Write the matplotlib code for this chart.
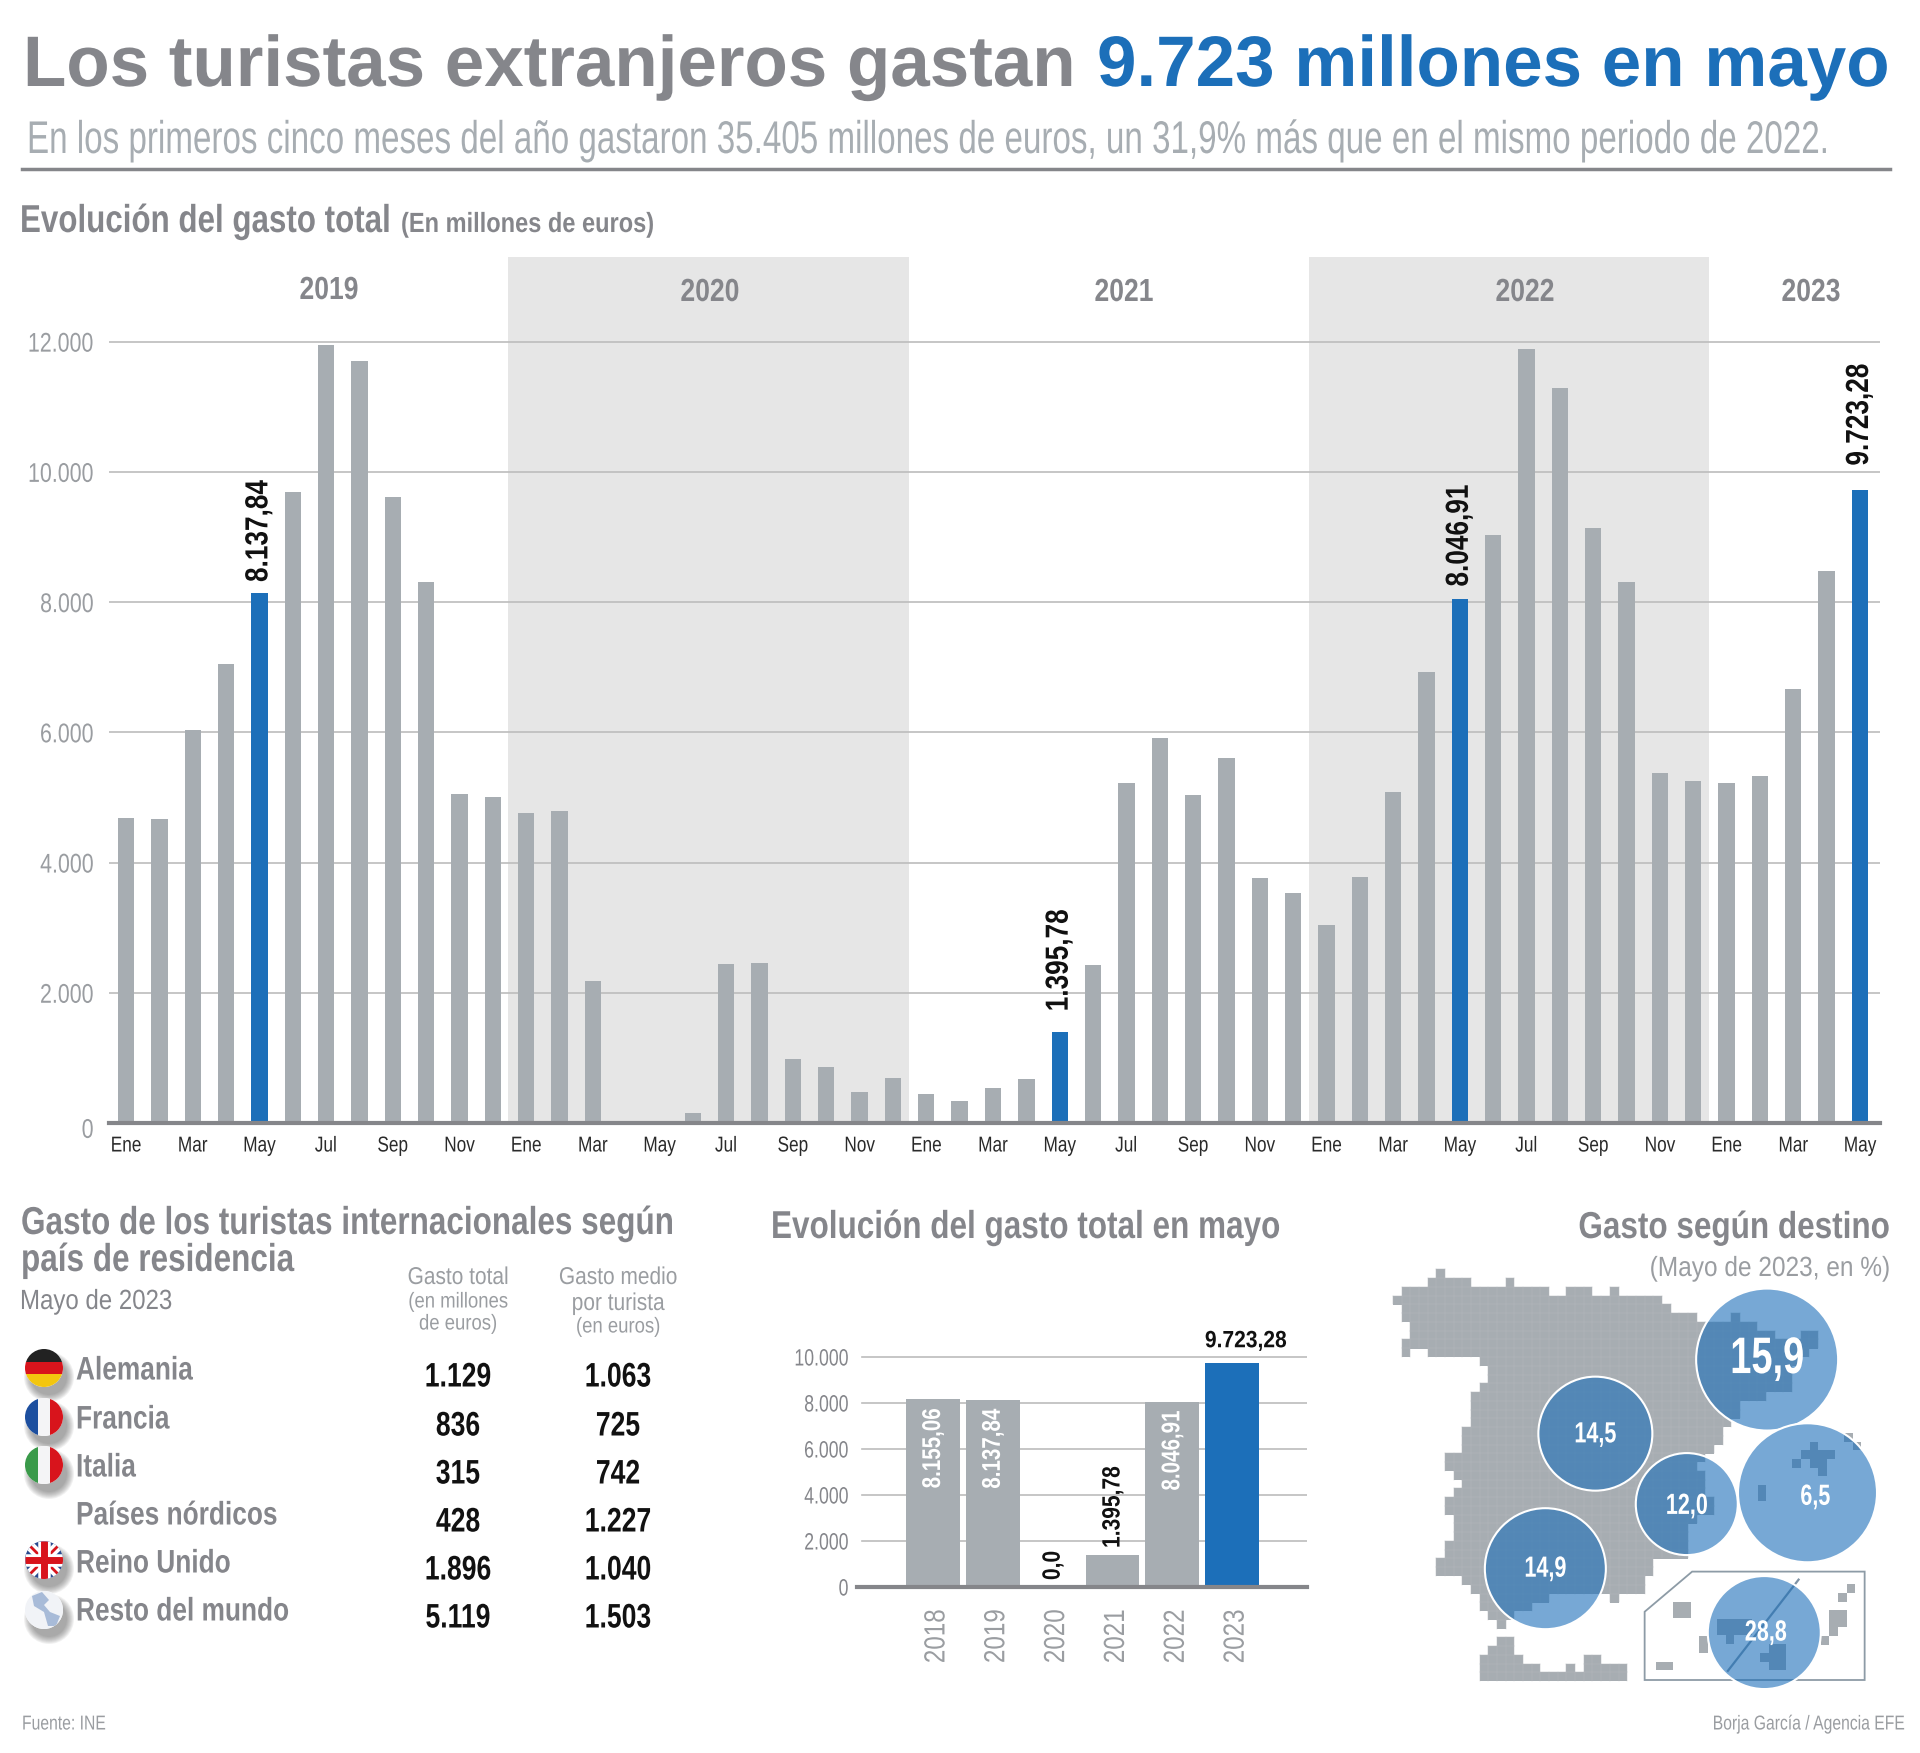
import matplotlib
matplotlib.use('Agg')
import matplotlib.pyplot as plt
from matplotlib.patches import Circle, Rectangle, Polygon
from matplotlib.patheffects import AbstractPathEffect
from matplotlib.text import Text
from matplotlib.transforms import Affine2D, Bbox, ScaledTranslation

W, H = 1920, 1753
SANS = ['Liberation Sans']

GREY = '#a7adb2'; BLUE = '#1c6fb9'; HEAD = '#85868b'; SOFT = '#9a9da1'; BAND = '#e6e6e6'; GRID = '#bcbcbc'

# ---------- data ----------
MONTHS = ['Ene', 'Mar', 'May', 'Jul', 'Sep', 'Nov']
V2019 = [4684, 4665, 6038, 7054, 8137.84, 9687, 11945, 11700, 9612, 8314, 5060, 5004]
V2020 = [4759, 4797, 2182, 0, 0, 150, 2445, 2464, 978, 865, 470, 696]
V2021 = [451, 339, 545, 677, 1395.78, 2426, 5229, 5906, 5041, 5605, 3762, 3536]
V2022 = [3047, 3781, 5079, 6922, 8046.91, 9029, 11888, 11286, 9142, 8314, 5380, 5248]
V2023 = [5229, 5323, 6659, 8483, 9723.28]
YEARS_MAIN = ['2019', '2020', '2021', '2022', '2023']
Y_TICKS = [0, 2000, 4000, 6000, 8000, 10000, 12000]
MAY_YEARS = ['2018', '2019', '2020', '2021', '2022', '2023']
MAY_VALUES = [8155.06, 8137.84, 0.0, 1395.78, 8046.91, 9723.28]
COUNTRIES = ['Alemania', 'Francia', 'Italia', 'Países nórdicos', 'Reino Unido', 'Resto del mundo']
GASTO_TOTAL = ['1.129', '836', '315', '428', '1.896', '5.119']
GASTO_MEDIO = ['1.063', '725', '742', '1.227', '1.040', '1.503']
DESTINOS = ['15,9', '14,5', '12,0', '6,5', '14,9', '28,8']


def es(v, dec=2):
    s = f'{v:,.{dec}f}'
    return s.replace(',', '#').replace('.', ',').replace('#', '.')


def pos(x0, y0, x1, y1):
    return [x0 / W, 1 - y1 / H, (x1 - x0) / W, (y1 - y0) / H]


class Squeeze(AbstractPathEffect):
    """Draws a text narrower along its own direction; anchor 0/0.5/1 = start/middle/end stays put."""
    def __init__(self, f, anchor):
        super().__init__()
        self.f, self.anchor = f, anchor

    def draw_path(self, renderer, gc, tpath, affine, rgbFace=None):
        w = tpath.get_extents().x1
        a = Affine2D().scale(self.f, 1).translate(w * (1 - self.f) * self.anchor, 0) + affine
        renderer.draw_path(gc, tpath, a, rgbFace)


class NarrowText(Text):
    """Horizontal one-line text whose layout has the squeezed width."""
    def _get_layout(self, renderer):
        bbox, info, descent = super()._get_layout(renderer)
        f, a = self._f, self._a
        shift = bbox.width * (1 - f) * a
        box = Bbox.from_bounds(bbox.x0 + shift, bbox.y0, bbox.width * f, bbox.height)
        lines = [(l, wh, x + shift, y) for l, wh, x, y in info]
        return box, lines, descent


def squeeze(t, f, anchor=None):
    if anchor is None:
        anchor = {'left': 0, 'center': 0.5, 'right': 1}[t.get_ha()]
    t.set_path_effects([Squeeze(f, anchor)])
    return t


def nudge(t, dx=0, dy=0):
    t.set_transform(t.get_transform() + ScaledTranslation(dx / 72, dy / 72, fig.dpi_scale_trans))


fig = plt.figure(figsize=(W / 100, H / 100), dpi=100, facecolor='white')
rend = fig.canvas.get_renderer()

# ---------- main chart ----------
ax = fig.add_axes(pos(109, 257, 1880, 1123), zorder=1)
vals = V2019 + V2020 + V2021 + V2022 + V2023
xs = list(range(len(vals)))
ax.set_xlim(-0.51, 52.6)
ax.set_ylim(0, 13300)
ax.axvspan(11.45, 23.48, color=BAND, lw=0, zorder=0)
ax.axvspan(35.49, 47.46, color=BAND, lw=0, zorder=0)
for t in Y_TICKS[1:]:
    ax.axhline(t, color=GRID, lw=1.2, zorder=1)
hl = [4, 28, 40, 52]
LABEL_PAD = [8, 15, 9, 17.5]
ax.bar(xs, vals, width=0.49, color=[BLUE if i in hl else GREY for i in xs], zorder=2)
ax.axhline(0, color='#85868a', lw=3, zorder=3, clip_on=False)
for i, p in zip(hl, LABEL_PAD):
    a = ax.annotate(es(vals[i]), (i, vals[i]), xytext=(0, p), textcoords='offset points', rotation=90,
                    ha='center', va='bottom', family=SANS, weight='bold', fontsize=23, color='#111111', zorder=4)
    squeeze(a, 0.82, 0)
for s in ax.spines.values():
    s.set_visible(False)
ax.set_xticks(xs[::2])
ax.set_xticklabels([MONTHS[(i // 2) % 6] for i in xs[::2]], family=SANS, fontsize=15.5, color='#2a2a2a')
ax.set_yticks(Y_TICKS)
ax.set_yticklabels([es(t, 0) for t in Y_TICKS], family=SANS, fontsize=19.5, color=SOFT)
ax.tick_params(length=0)
ax.tick_params(axis='x', pad=9)
ax.tick_params(axis='y', pad=11)
for l in ax.get_xticklabels():
    squeeze(l, 0.8, 0.5)
for l in ax.get_yticklabels():
    squeeze(l, 0.79, 1)
nudge(ax.get_yticklabels()[0], dy=-3.5)
ax.patch.set_alpha(0)

# ---------- May chart ----------
am = fig.add_axes(pos(857, 1340, 1307, 1587), zorder=1)
xm = list(range(len(MAY_VALUES)))
am.set_xlim(-1.27, 6.25)
am.set_ylim(0, 10739)
for t in range(2000, 10001, 2000):
    am.axhline(t, xmin=0.012, color=GRID, lw=1.2, zorder=1)
am.bar(xm, MAY_VALUES, width=0.9, color=[GREY] * 5 + [BLUE], zorder=2)
am.axhline(0, color='#85868a', lw=3, zorder=3, clip_on=False)
for i, v in zip(xm, MAY_VALUES):
    if v > 8000 and i < 5:
        t = am.annotate(es(v), (i, v), xytext=(0, -6), textcoords='offset points', rotation=90, ha='center', va='top',
                        color='white', family=SANS, weight='bold', fontsize=18.5, zorder=4)
        squeeze(t, 0.8, 1)
    elif i < 5:
        t = am.annotate(es(v) if v else '0,0', (i, v), xytext=(0, 5), textcoords='offset points', rotation=90,
                        ha='center', va='bottom', family=SANS, weight='bold', fontsize=18, color='#111111', zorder=4)
        squeeze(t, 0.84, 0)
    else:
        t = am.annotate(es(v), (i, v), xytext=(10, 8), textcoords='offset points', ha='center', va='bottom',
                        family=SANS, weight='bold', fontsize=17, color='#111111', zorder=4, annotation_clip=False)
        squeeze(t, 0.89, 0.5)
for s in am.spines.values():
    s.set_visible(False)
am.set_xticks(xm)
am.set_xticklabels(MAY_YEARS, rotation=90, family=SANS, fontsize=21, color=SOFT)
am.set_yticks(list(range(0, 10001, 2000)))
am.set_yticklabels([es(t, 0) for t in range(0, 10001, 2000)], family=SANS, fontsize=17, color=HEAD)
am.tick_params(length=0)
am.tick_params(axis='x', pad=16)
am.tick_params(axis='y', pad=6)
for l in am.get_xticklabels():
    squeeze(l, 0.83, 1)
    nudge(l, dx=2.5)
for l in am.get_yticklabels():
    squeeze(l, 0.75, 1)
am.patch.set_alpha(0)

# ---------- overlay in pixels ----------
ov = fig.add_axes([0, 0, 1, 1], zorder=2)
ov.set_xlim(0, W); ov.set_ylim(H, 0); ov.axis('off'); ov.patch.set_alpha(0)


def T(x, y, s, size, color=HEAD, ha='left', va='center', weight='normal', f=None, w=None, **kw):
    t = ov.text(x, y, s, fontsize=size, color=color, ha=ha, va=va, family=SANS, weight=weight, **kw)
    if w is not None:
        f = w / t.get_window_extent(rend).width
    if f is None:
        f = 1.0
    squeeze(t, f, 0)
    t.__class__ = NarrowText
    t._f, t._a = f, {'left': 0, 'center': 0.5, 'right': 1}[ha]
    return t


T(23, 86, 'Los turistas extranjeros gastan', 51.5, va='baseline', weight='bold', w=1052)
T(1889, 86, '9.723 millones en mayo', 51.5, color=BLUE, ha='right', va='baseline', weight='bold', w=792)
T(27, 153, 'En los primeros cinco meses del año gastaron 35.405 millones de euros, un 31,9% más que en el mismo periodo de 2022.',
  33, color=GREY, va='baseline', w=1802)
ov.plot([22, 1890], [169, 169], color='#85868a', lw=2.5)
T(20, 232, 'Evolución del gasto total', 28, va='baseline', weight='bold', w=371)
T(401, 232, '(En millones de euros)', 20, va='baseline', weight='bold', w=253)
for x, y, s in zip([329, 710, 1124, 1525, 1811], [291, 293, 293, 293, 293], YEARS_MAIN):
    T(x, y, s, 23, ha='center', weight='bold', f=0.83)

# table
T(21, 1224, 'Gasto de los turistas internacionales según', 28, weight='bold', f=0.81)
T(21, 1261, 'país de residencia', 28, weight='bold', f=0.81)
T(20, 1302, 'Mayo de 2023', 20, color=HEAD, f=0.865)
for x, y, s, z in [(458, 1278, 'Gasto total', 17.5), (458, 1302, '(en millones', 15.5), (458, 1324, 'de euros)', 15.5),
                   (618, 1278, 'Gasto medio', 17.5), (618, 1304, 'por turista', 17.5), (618, 1327, '(en euros)', 15.5)]:
    T(x, y, s, z, ha='center', color=SOFT, f=0.86)
LAB_Y = [1371, 1420, 1468, 1516, 1564, 1612]
VAL_Y = [1378, 1427, 1475, 1523, 1571, 1619]
for s, t, m, y, v in zip(COUNTRIES, GASTO_TOTAL, GASTO_MEDIO, LAB_Y, VAL_Y):
    T(76, y, s, 23.5, weight='bold', f=0.805)
    T(458, v, t, 24.5, color='#111111', ha='center', weight='bold', f=0.78)
    T(618, v, m, 24.5, color='#111111', ha='center', weight='bold', f=0.78)


def flag(cy, bands, vertical=False):
    cx = 44; r = 19
    for k in range(8):
        ov.add_patch(Circle((cx + 5, cy + 9), r + 6 - k, color='#444444', alpha=0.07, lw=0, zorder=2))
    c = Circle((cx, cy), r, fc='white', lw=0, zorder=3)
    ov.add_patch(c)
    n = len(bands)
    for k, col in enumerate(bands):
        if vertical:
            rr = Rectangle((cx - r + 2 * r * k / n, cy - r), 2 * r / n, 2 * r, fc=col, lw=0, zorder=3.1)
        else:
            rr = Rectangle((cx - r, cy - r + 2 * r * k / n), 2 * r, 2 * r / n, fc=col, lw=0, zorder=3.1)
        ov.add_patch(rr)
        rr.set_clip_path(c)
    return c


flag(1368, ['#222222', '#d8141c', '#f3c60f'])
flag(1417, ['#1d4f9f', '#f4f4f6', '#d8141c'], vertical=True)
flag(1465, ['#3a9a4a', '#f4f4f6', '#d8141c'], vertical=True)
c = flag(1560, ['#2a4a8f'])
for (a, b, col, w) in [(-19, -19, 'white', 7), (-19, 19, 'white', 7), (-19, -19, '#d8141c', 2), (-19, 19, '#d8141c', 2)]:
    ln, = ov.plot([44 + a, 44 - a], [1560 + b, 1560 - b], color=col, lw=w, zorder=3.2, solid_capstyle='butt')
    ln.set_clip_path(c)
for xx, yy, col, w in [([44, 44], [1541, 1579], 'white', 9), ([25, 63], [1560, 1560], 'white', 9),
                       ([44, 44], [1541, 1579], '#d8141c', 5), ([25, 63], [1560, 1560], '#d8141c', 5)]:
    ln, = ov.plot(xx, yy, color=col, lw=w, zorder=3.3, solid_capstyle='butt')
    ln.set_clip_path(c)
c = flag(1610, ['#f1f3f7'])
blob = Polygon([(32, 1596), (42, 1592), (49, 1600), (44, 1605), (50, 1612), (60, 1616), (56, 1626), (48, 1626), (44, 1612), (34, 1606)],
               fc='#a8bbd8', lw=0, zorder=3.2)
ov.add_patch(blob); blob.set_clip_path(c)

# section headings
T(771, 1228, 'Evolución del gasto total en mayo', 28, weight='bold', f=0.81)
T(1890, 1228, 'Gasto según destino', 27, ha='right', weight='bold', f=0.84)
T(1890, 1269, '(Mayo de 2023, en %)', 20, ha='right', color=SOFT, f=0.88)
T(22, 1724, 'Fuente: INE', 14.5, color=SOFT, f=0.78)
T(1905, 1724, 'Borja García / Agencia EFE', 14.5, ha='right', color=SOFT, f=0.78)

# ---------- map: crop units -> pixels ----------
MX = lambda x: 1360 + x / 2.8
MY = lambda y: 1180 + y / 2.74
STEP = 24.3; ROW = 24.0
RUNS = {0: [(5, 5)], 1: [(4, 8), (13, 13)], 2: [(1, 17), (20, 22), (25, 25)], 3: [(0, 30)], 4: [(1, 31)],
        5: [(1, 34), (39, 39)], 6: [(2, 41)], 7: [(2, 43), (47, 48)], 8: [(1, 48)], 9: [(1, 1), (4, 47)],
        10: [(10, 46)], 11: [(11, 45)], 12: [(11, 45)], 13: [(10, 45)], 14: [(9, 42)], 15: [(9, 39)], 16: [(9, 39)],
        17: [(9, 38)], 18: [(8, 37)], 19: [(8, 37)], 20: [(8, 36)], 21: [(6, 35)], 22: [(6, 34)], 23: [(7, 35)],
        24: [(8, 35)], 25: [(7, 35)], 26: [(6, 36)], 27: [(6, 36)], 28: [(7, 34)], 29: [(7, 33)], 30: [(7, 33)],
        31: [(6, 33)], 32: [(6, 33)], 33: [(5, 29)], 34: [(5, 29)], 35: [(8, 28)], 36: [(9, 28)],
        37: [(10, 17), (25, 25)], 38: [(10, 15)], 39: [(11, 13)], 40: [(12, 12)],
        42: [(12, 13)], 43: [(11, 13)], 44: [(10, 14), (22, 23)], 45: [(10, 16), (20, 20), (22, 26)], 46: [(10, 26)]}
ISLANDS = [(1259, 717, 1283, 741), (1235, 741, 1330, 765), (1210, 765, 1235, 789), (1259, 765, 1307, 789),
           (1283, 789, 1307, 810), (1355, 693, 1380, 717), (1380, 717, 1403, 741), (1113, 835, 1137, 880),
           (877, 1157, 926, 1200), (950, 1250, 974, 1296), (829, 1320, 877, 1343),
           (1000, 1203, 1097, 1248), (1024, 1248, 1048, 1272), (1120, 1296, 1193, 1320), (1145, 1272, 1193, 1296),
           (1145, 1320, 1193, 1343), (1363, 1108, 1387, 1132), (1338, 1132, 1363, 1156), (1314, 1178, 1363, 1225),
           (1314, 1225, 1338, 1250), (1290, 1250, 1314, 1274)]
for r, runs in RUNS.items():
    y0 = MY(245 + ROW * r)
    h = ROW / 2.74
    for a, b in runs:
        ov.add_patch(Rectangle((MX(92 + STEP * a), y0), STEP * (b - a + 1) / 2.8, h + 0.3, fc=GREY, lw=0, zorder=2))
        for k in range(a, b + 2):
            ov.plot([MX(92 + STEP * k)] * 2, [y0, y0 + h], color='#b4b9bd', lw=0.35, zorder=2.05)
        ov.plot([MX(92 + STEP * a), MX(92 + STEP * (b + 1))], [y0, y0], color='#b4b9bd', lw=0.35, zorder=2.05)
for x0, y0, x1, y1 in ISLANDS:
    ov.add_patch(Rectangle((MX(x0), MY(y0)), (x1 - x0) / 2.8, (y1 - y0) / 2.74, fc=GREY, lw=0, zorder=2))
ov.add_patch(Polygon([(MX(a), MY(b)) for a, b in [(797, 1183), (930, 1073), (1413, 1073), (1413, 1370), (797, 1370)]],
                     fc='none', ec='#8d9ba6', lw=1.3, zorder=2.1))
ov.plot([MX(1228), MX(1030)], [MY(1095), MY(1345)], color='#7f93a6', lw=1.6, zorder=2.1)
C_X = [1140, 659, 915, 1253, 519, 1132]
C_Y = [492, 695, 888, 857, 1065, 1240]
C_R = [71, 57, 51, 69.5, 60.5, 56.5]
TXT_Y = [492, 697, 893, 868, 1065, 1240]
TXT_X = [1140, 659, 915, 1275, 519, 1136]
SIZES = [37, 21, 21, 21, 21, 21]
for x, y, r, tx, ty, s, z in zip(C_X, C_Y, C_R, TXT_X, TXT_Y, DESTINOS, SIZES):
    ov.add_patch(Circle((MX(x), MY(y)), r, fc=(0x1c / 255, 0x6f / 255, 0xb9 / 255, 0.6), ec='white', lw=1.5, zorder=3))
    T(MX(tx), MY(ty), s, z, color='white', ha='center', weight='bold', f=0.74, zorder=4)

fig.savefig('out.png', dpi=100, facecolor='white')
